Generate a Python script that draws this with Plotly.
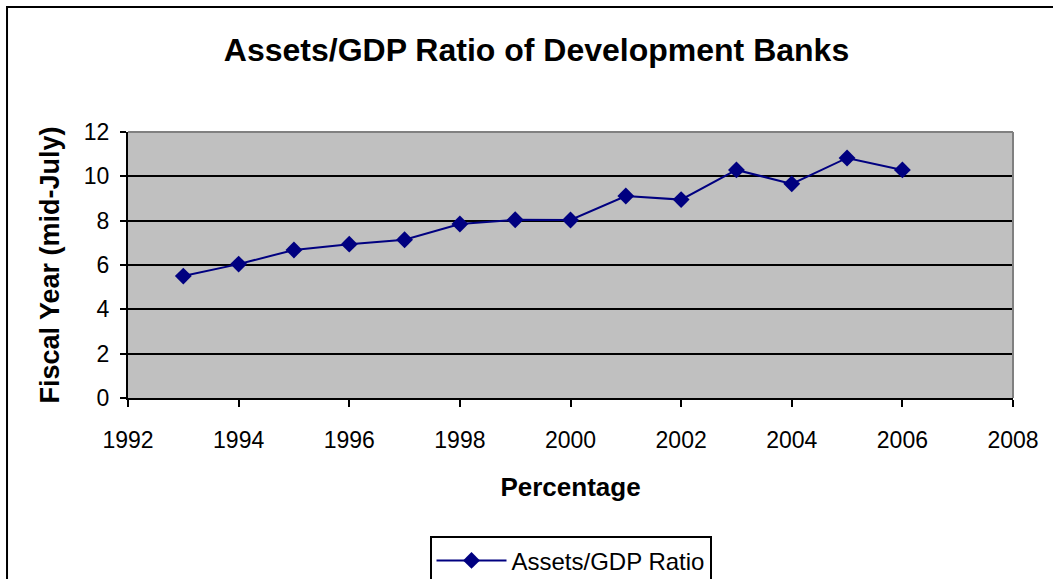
import plotly.graph_objects as go

# Fiscal years and development-bank assets as a share of GDP
years = [1993, 1994, 1995, 1996, 1997, 1998, 1999, 2000, 2001, 2002, 2003, 2004, 2005, 2006]
ratio = [5.5, 6.04, 6.68, 6.94, 7.14, 7.85, 8.04, 8.03, 9.11, 8.95, 10.29, 9.66, 10.83, 10.29]

x_ticks = [1992, 1994, 1996, 1998, 2000, 2002, 2004, 2006, 2008]
y_ticks = [0, 2, 4, 6, 8, 10, 12]

FONT = "Liberation Sans, Arial, sans-serif"

fig = go.Figure()
fig.add_trace(go.Scatter(
    x=years, y=ratio, mode="lines+markers", name="Assets/GDP Ratio",
    line=dict(color="#000080", width=2),
    marker=dict(symbol="diamond", size=13, color="#000080"),
))

fig.update_layout(
    width=1053, height=579,
    margin=dict(l=128, r=40, t=132, b=181, autoexpand=False),
    paper_bgcolor="white", plot_bgcolor="#C0C0C0",
    font=dict(family=FONT, color="black", size=21),
    title=dict(text="<b>Assets/GDP Ratio of Development Banks</b>",
               x=536.5 / 1053, xanchor="center", y=1 - 50 / 579, yanchor="middle",
               font=dict(size=32, family=FONT)),
    showlegend=True,
    legend=dict(x=0.5, xanchor="center", y=-0.52, yanchor="top",
                bordercolor="black", borderwidth=2, bgcolor="white",
                font=dict(size=24), itemwidth=70),
    xaxis=dict(range=[1992, 2008], tickvals=x_ticks, showgrid=False, zeroline=False,
               showline=True, linecolor="black", linewidth=2,
               ticks="outside", ticklen=7, tickwidth=2, tickcolor="black",
               tickfont=dict(size=23), ticklabelstandoff=13,
               title=dict(text="<b>Percentage</b>", font=dict(size=26), standoff=26)),
    yaxis=dict(range=[0, 12], tickvals=y_ticks, showgrid=True, gridcolor="black", gridwidth=1.5,
               zeroline=False, showline=True, linecolor="black", linewidth=2,
               ticks="outside", ticklen=6, tickwidth=2, tickcolor="black",
               tickfont=dict(size=23), ticklabelstandoff=6,
               title=dict(text="<b>Fiscal Year (mid-July)</b>", font=dict(size=27), standoff=16)),
)

# Gray top and right edges of the plotting area
fig.add_shape(type="line", xref="paper", yref="paper", x0=0, x1=1, y0=1, y1=1,
              line=dict(color="#808080", width=2), layer="above")
fig.add_shape(type="line", xref="paper", yref="paper", x0=1, x1=1, y0=0, y1=1,
              line=dict(color="#808080", width=2), layer="above")

# Outer chart frame
fig.add_shape(type="rect", xref="paper", yref="paper", x0=-0.1367, x1=2, y0=-2, y1=1.4695,
              line=dict(color="black", width=2), layer="below")

fig.write_html("out.html")
